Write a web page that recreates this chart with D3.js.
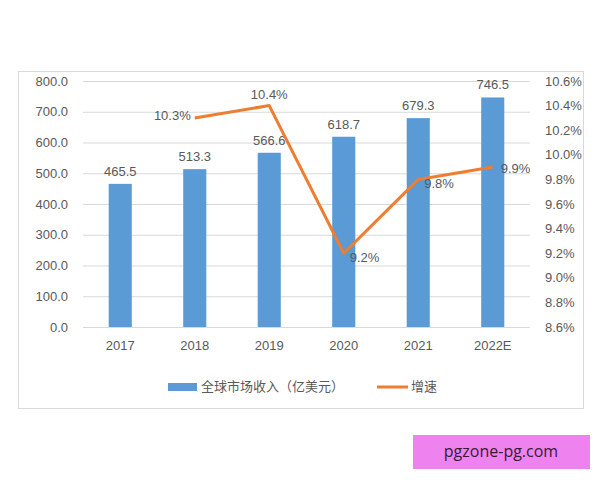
<!DOCTYPE html>
<html><head><meta charset="utf-8">
<script src="https://cdn.jsdelivr.net/npm/d3@7"></script>
<style>body{margin:0;background:#fff;}svg{display:block;}</style>
</head><body>
<svg id="c" width="600" height="480"></svg>
<script>
const categories = ["2017","2018","2019","2020","2021","2022E"];
const revenue = [465.5, 513.3, 566.6, 618.7, 679.3, 746.5];
const growth = [null, 10.3, 10.4, 9.2, 9.8, 9.9];
const leftTicks = [0,100,200,300,400,500,600,700,800];
const rightTicks = [8.6,8.8,9.0,9.2,9.4,9.6,9.8,10.0,10.2,10.4,10.6];
const seriesNames = ["全球市场收入（亿美元）","增速"];

const svg = d3.select("#c");
const font = "'Liberation Sans', 'Open Sans', sans-serif";
const txt = "#595959";

svg.append("rect").attr("x",18.5).attr("y",71.5).attr("width",565).attr("height",337)
  .attr("fill","#fff").attr("stroke","#d9d9d9");

const x = d3.scaleBand().domain(categories).range([83,530]).paddingInner(0.69).paddingOuter(0.345);
const y = d3.scaleLinear().domain([0,800]).range([327,81]);
const y2 = d3.scaleLinear().domain([8.6,10.6]).range([327,81]);

// gridlines
svg.append("g").selectAll("line").data(leftTicks).join("line")
  .attr("x1",83).attr("x2",530).attr("y1",d=>y(d)+0.5).attr("y2",d=>y(d)+0.5)
  .attr("stroke","#d9d9d9").attr("stroke-width",1);

// left axis
const la = svg.append("g").attr("transform","translate(75,0)")
  .call(d3.axisLeft(y).tickValues(leftTicks).tickFormat(d3.format(".1f")).tickSize(0).tickPadding(7));
la.select(".domain").remove();
la.selectAll("text").attr("fill",txt).style("font-family",font).style("font-size","13px");

// right axis
const ra = svg.append("g").attr("transform","translate(540,0)")
  .call(d3.axisRight(y2).tickValues(rightTicks).tickFormat(d=>d.toFixed(1)+"%").tickSize(0).tickPadding(5));
ra.select(".domain").remove();
ra.selectAll("text").attr("fill",txt).style("font-family",font).style("font-size","13px");

// bottom axis
const ba = svg.append("g").attr("transform","translate(0,335)")
  .call(d3.axisBottom(x).tickSize(0).tickPadding(6));
ba.select(".domain").remove();
ba.selectAll("text").attr("fill",txt).style("font-family",font).style("font-size","13px");

// bars
svg.append("g").selectAll("rect").data(revenue).join("rect")
  .attr("x",(d,i)=>x(categories[i])).attr("width",x.bandwidth())
  .attr("y",d=>y(d)).attr("height",d=>y(0)-y(d)).attr("fill","#5B9BD5");

svg.append("g").selectAll("text").data(revenue).join("text")
  .attr("x",(d,i)=>x(categories[i])+x.bandwidth()/2).attr("y",d=>y(d)-8)
  .attr("text-anchor","middle").attr("fill",txt).style("font-family",font).style("font-size","13px")
  .text(d=>d.toFixed(1));

// line
const pts = growth.map((g,i)=>({g,c:categories[i],i})).filter(d=>d.g!==null);
const line = d3.line().x(d=>x(d.c)+x.bandwidth()/2).y(d=>y2(d.g));
svg.append("path").datum(pts).attr("d",line).attr("fill","none")
  .attr("stroke","#ED7D31").attr("stroke-width",3).attr("stroke-linejoin","round");

// line labels
const lblPos = {1:{dx:-4,dy:-1,a:"end"},2:{dx:0,dy:-7,a:"middle"},3:{dx:6,dy:5,a:"start"},4:{dx:6,dy:5,a:"start"},5:{dx:8,dy:2,a:"start"}};
svg.append("g").selectAll("text").data(pts).join("text")
  .attr("x",d=>x(d.c)+x.bandwidth()/2+lblPos[d.i].dx)
  .attr("y",d=>y2(d.g)+lblPos[d.i].dy)
  .attr("dominant-baseline",d=>lblPos[d.i].a==="middle"?"auto":"middle")
  .attr("text-anchor",d=>lblPos[d.i].a).attr("fill",txt)
  .style("font-family",font).style("font-size","13px")
  .text(d=>d.g.toFixed(1)+"%");

// legend
const lg = svg.append("g");
lg.append("rect").attr("x",168).attr("y",383).attr("width",29).attr("height",8).attr("fill","#5B9BD5");
lg.append("text").attr("x",201).attr("y",387).attr("dominant-baseline","middle").attr("fill",txt)
  .style("font-family","'Noto Sans CJK SC', sans-serif").style("font-size","13px").text(seriesNames[0]);
lg.append("line").attr("x1",377).attr("x2",408).attr("y1",387).attr("y2",387).attr("stroke","#ED7D31").attr("stroke-width",3);
lg.append("text").attr("x",411).attr("y",387).attr("dominant-baseline","middle").attr("fill",txt)
  .style("font-family","'Noto Sans CJK SC', sans-serif").style("font-size","13px").text(seriesNames[1]);

// badge
svg.append("rect").attr("x",413).attr("y",435).attr("width",177).attr("height",34).attr("fill","#EE82EE");
svg.append("text").attr("x",501).attr("y",453).attr("text-anchor","middle").attr("dominant-baseline","middle")
  .attr("fill","#3a1a3a").style("font-family","'Open Sans', sans-serif").style("font-size","16px").text("pgzone-pg.com");
</script>
</body></html>
